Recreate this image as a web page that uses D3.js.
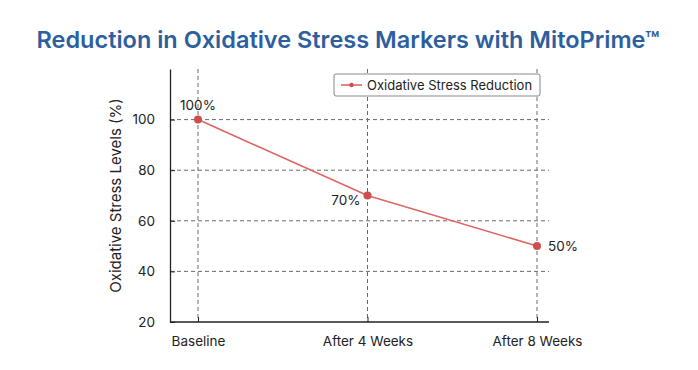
<!DOCTYPE html>
<html>
<head>
<meta charset="utf-8">
<script src="https://cdn.jsdelivr.net/npm/d3@7"></script>
<style>
  body { margin: 0; background: #fff; }
  text { font-family: Inter, "Noto Sans", sans-serif; }
</style>
</head>
<body>
<div id="chart"></div>
<script>
// chart data
const stages = ["Baseline", "After 4 Weeks", "After 8 Weeks"];
const stressLevels = [100, 70, 50];
const pointLabels = ["100%", "70%", "50%"];
const yTicks = [20, 40, 60, 80, 100];

const W = 698, H = 370;
const svg = d3.select("#chart").append("svg").attr("width", W).attr("height", H);

// scales
const x = d3.scalePoint().domain(stages).range([198, 537]);
const y = d3.scaleLinear().domain([20, 120]).range([322, 69]);
const left = 170, right = 549;

// title
svg.append("text")
    .attr("x", 348).attr("y", 48)
    .attr("text-anchor", "middle")
    .style("font-size", "23.5px").style("font-weight", "600")
    .style("fill", "#2d5f9f")
    .text("Reduction in Oxidative Stress Markers with MitoPrime™");

// grid lines
svg.append("g").selectAll("line").data(yTicks.slice(1)).join("line")
    .attr("x1", left).attr("x2", right)
    .attr("y1", d => y(d)).attr("y2", d => y(d))
    .attr("stroke", "#6a6a6a").attr("stroke-dasharray", "4,3");

svg.append("g").selectAll("line").data(stages).join("line")
    .attr("x1", d => x(d)).attr("x2", d => x(d))
    .attr("y1", y(120)).attr("y2", y(20))
    .attr("stroke", "#6a6a6a").attr("stroke-dasharray", "4,3");

// axes
const xAxis = svg.append("g").attr("transform", `translate(0,${y(20)})`)
    .call(d3.axisBottom(x).tickSize(-5).tickSizeOuter(0).tickPadding(14));
xAxis.select(".domain").attr("d", `M${left},0H${right}`).attr("stroke", "#222").attr("stroke-width", 1.3);
xAxis.selectAll(".tick line").attr("stroke", "#222");
xAxis.selectAll("text").style("font-size", "13.5px").style("fill", "#222")
    .attr("font-family", null);

const yAxis = svg.append("g").attr("transform", `translate(${left},0)`)
    .call(d3.axisLeft(y).tickValues(yTicks).tickSize(-5).tickSizeOuter(0).tickPadding(15));
yAxis.select(".domain").attr("stroke", "#222").attr("stroke-width", 1.3);
yAxis.selectAll(".tick line").attr("stroke", "#222");
yAxis.selectAll("text").style("font-size", "13.5px").style("fill", "#222")
    .attr("font-family", null);

// y axis title
svg.append("text")
    .attr("transform", `translate(121,${(y(20) + y(120)) / 2}) rotate(-90)`)
    .attr("text-anchor", "middle")
    .style("font-size", "15px").style("fill", "#222")
    .text("Oxidative Stress Levels (%)");

// line + points
const line = d3.line().x((d, i) => x(stages[i])).y(d => y(d));
svg.append("path").datum(stressLevels)
    .attr("d", line)
    .attr("fill", "none").attr("stroke", "#e06464").attr("stroke-width", 1.6);

svg.append("g").selectAll("circle").data(stressLevels).join("circle")
    .attr("cx", (d, i) => x(stages[i])).attr("cy", d => y(d))
    .attr("r", 4).attr("fill", "#cc4f4f");

// point labels
const labelPos = [
    { dx: 0, dy: -10, anchor: "middle" },
    { dx: -7, dy: 9, anchor: "end" },
    { dx: 11, dy: 5, anchor: "start" }
];
svg.append("g").selectAll("text").data(stressLevels).join("text")
    .attr("x", (d, i) => x(stages[i]) + labelPos[i].dx)
    .attr("y", (d, i) => y(d) + labelPos[i].dy)
    .attr("text-anchor", (d, i) => labelPos[i].anchor)
    .style("font-size", "13.5px").style("fill", "#222")
    .text((d, i) => pointLabels[i]);

// legend
const lg = svg.append("g").attr("transform", "translate(334,74)");
lg.append("rect").attr("width", 206).attr("height", 22).attr("rx", 2)
    .attr("fill", "#fff").attr("stroke", "#888");
lg.append("line").attr("x1", 7).attr("x2", 28).attr("y1", 11).attr("y2", 11)
    .attr("stroke", "#e06464").attr("stroke-width", 1.6);
lg.append("circle").attr("cx", 17.5).attr("cy", 11).attr("r", 2.2).attr("fill", "#cc4f4f");
lg.append("text").attr("x", 33).attr("y", 15.5)
    .style("font-size", "13px").style("fill", "#222")
    .text("Oxidative Stress Reduction");
</script>
</body>
</html>
